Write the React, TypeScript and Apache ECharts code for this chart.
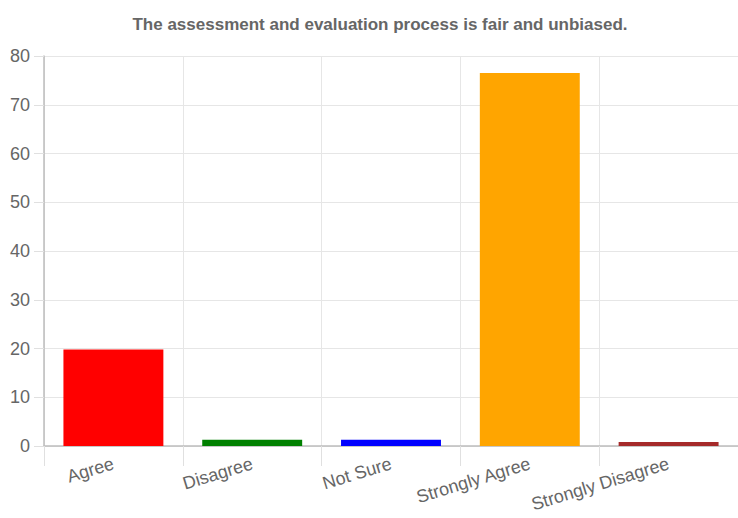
import React, { useEffect, useRef } from "react";
import * as echarts from "echarts";

const titleText = "The assessment and evaluation process is fair and unbiased.";
const categories = ["Agree", "Disagree", "Not Sure", "Strongly Agree", "Strongly Disagree"];
const values = [19.8, 1.3, 1.3, 76.5, 0.8];
const barColors = ["#ff0000", "#008000", "#0000ff", "#ffa500", "#a52a2a"];
const yTicks = { min: 0, max: 80, interval: 10 };

const FONT = "'Liberation Sans', Arial, sans-serif";

export default function App() {
  const ref = useRef<HTMLDivElement>(null);
  useEffect(() => {
    if (!ref.current) return;
    const chart = echarts.init(ref.current, undefined, { renderer: "svg" });
    chart.setOption({
      animation: false,
      backgroundColor: "#ffffff",
      title: {
        text: titleText,
        left: 375,
        textAlign: "center",
        top: 11,
        textStyle: { fontFamily: FONT, fontSize: 17, fontWeight: "bold", color: "#666666" },
      },
      grid: { left: 44, top: 56, width: 697.5, height: 390, containLabel: false },
      xAxis: {
        type: "category",
        data: categories,
        axisLine: { show: true, lineStyle: { color: "#bdbdbd", width: 1.5 } },
        axisTick: { show: true, length: 20, lineStyle: { color: "#e0e0e0" } },
        splitLine: { show: true, lineStyle: { color: "#e6e6e6" } },
        axisLabel: {
          rotate: 17,
          margin: 17,
          color: "#666666",
          fontFamily: FONT,
          fontSize: 18,
        },
      },
      yAxis: {
        type: "value",
        min: yTicks.min,
        max: yTicks.max,
        interval: yTicks.interval,
        axisLine: { show: true, lineStyle: { color: "#bdbdbd", width: 1.5 } },
        axisTick: { show: true, length: 10, lineStyle: { color: "#e0e0e0" } },
        splitLine: { show: true, lineStyle: { color: "#e6e6e6" } },
        axisLabel: {
          margin: 14,
          color: "#666666",
          fontFamily: FONT,
          fontSize: 18,
        },
      },
      series: [
        {
          type: "bar",
          barCategoryGap: "28%",
          data: values.map((v, i) => ({ value: v, itemStyle: { color: barColors[i] } })),
        },
      ],
    });
    return () => chart.dispose();
  }, []);
  return <div ref={ref} style={{ width: 738, height: 518, position: "fixed", left: 0, top: 0 }} />;
}
